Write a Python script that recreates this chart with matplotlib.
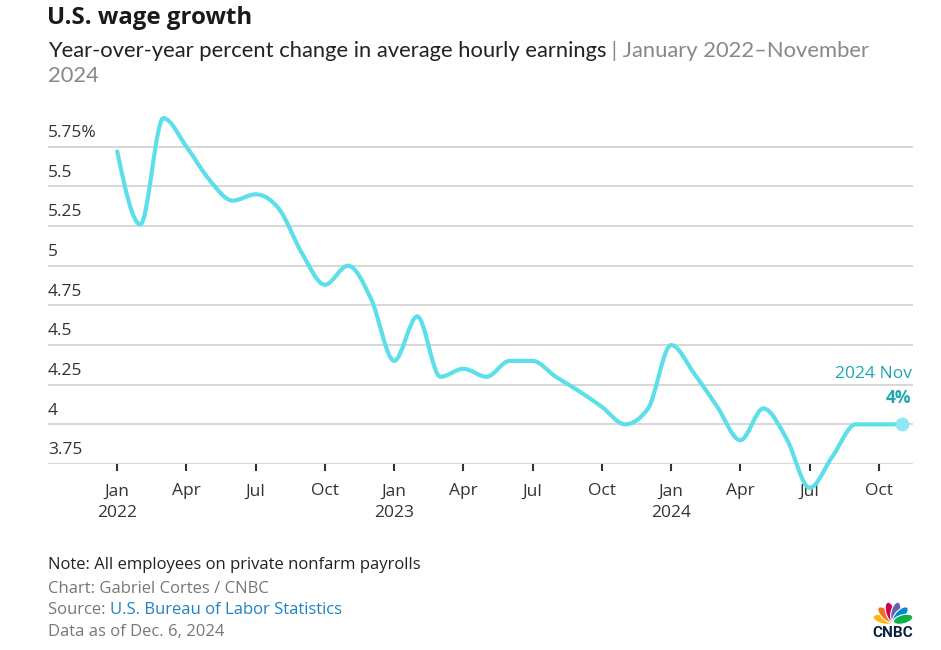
import matplotlib.pyplot as plt
import numpy as np
from matplotlib.path import Path
from matplotlib.patches import PathPatch, Ellipse

# Year-over-year % change in average hourly earnings, Jan 2022 - Nov 2024
wage_2022 = [5.72, 5.26, 5.93, 5.75, 5.54, 5.41, 5.45, 5.36, 5.08, 4.88, 5.00, 4.79]
wage_2023 = [4.40, 4.68, 4.30, 4.35, 4.30, 4.40, 4.40, 4.30, 4.21, 4.11, 4.00, 4.10]
wage_2024 = [4.50, 4.32, 4.11, 3.90, 4.10, 3.91, 3.60, 3.80, 4.00, 4.00, 4.00]
values = wage_2022 + wage_2023 + wage_2024

month_names = ['Jan', 'Apr', 'Jul', 'Oct']
years = ['2022', '2023', '2024']
y_ticks = [3.75, 4, 4.25, 4.5, 4.75, 5, 5.25, 5.5, 5.75]
y_tick_labels = ['3.75', '4', '4.25', '4.5', '4.75', '5', '5.25', '5.5', '5.75%']

W, H = 941, 650
LINE = '#5ddfe9'
TEAL = '#1fa6b2'
GREY = '#777777'
TXT = '#333333'

plt.rcParams['font.family'] = ['Open Sans', 'DejaVu Sans']


def monotone_path(x, y):
    # d3-style monotone-x curve built from cubic bezier segments
    x = np.asarray(x, float)
    y = np.asarray(y, float)
    n = len(x)
    h = np.diff(x)
    s = np.diff(y) / h
    t = np.zeros(n)
    for i in range(1, n - 1):
        p = (s[i - 1] * h[i] + s[i] * h[i - 1]) / (h[i - 1] + h[i])
        t[i] = (np.sign(s[i - 1]) + np.sign(s[i])) * min(abs(s[i - 1]), abs(s[i]), 0.5 * abs(p))
    t[0] = (3 * s[0] - t[1]) / 2
    t[-1] = (3 * s[-1] - t[-2]) / 2
    verts = [(x[0], y[0])]
    codes = [Path.MOVETO]
    for i in range(n - 1):
        dx = h[i] / 3
        verts += [(x[i] + dx, y[i] + dx * t[i]),
                  (x[i + 1] - dx, y[i + 1] - dx * t[i + 1]),
                  (x[i + 1], y[i + 1])]
        codes += [Path.CURVE4] * 3
    return Path(verts, codes)


fig = plt.figure(figsize=(W / 100, H / 100), dpi=100)


def fx(px):
    return px / W


def fy(py):
    return 1 - py / H


ax = fig.add_axes([fx(48), fy(464), fx(913) - fx(48), fy(115) - fy(464)])
months = np.arange(len(values))
ax.set_xlim(-3.0, len(values) - 1 + 0.48)
ax.set_ylim(3.75, 5.95)

for v, lab in zip(y_ticks, y_tick_labels):
    ax.axhline(v, color='#d4d4d4', lw=1.3, zorder=1)
    ax.annotate(lab, xy=(0, v), xycoords=('axes fraction', 'data'),
                xytext=(0, 4), textcoords='offset points',
                ha='left', va='bottom', fontsize=12.5, color=TXT)

for sp in ax.spines.values():
    sp.set_visible(False)
ax.set_yticks([])

tick_pos = months[::3]
tick_labels = []
for i, m in enumerate(tick_pos):
    name = month_names[i % 4]
    if name == 'Jan':
        tick_labels.append(name + '\n' + years[i // 4])
    else:
        tick_labels.append(name)
ax.set_xticks(tick_pos)
ax.set_xticklabels(tick_labels, fontsize=12.5, color=TXT, linespacing=1.5)
ax.tick_params(axis='x', length=5, width=1.5, color='#333333', pad=9)

patch = PathPatch(monotone_path(months, values), facecolor='none', edgecolor=LINE,
                  lw=3.0, capstyle='round', joinstyle='round', zorder=3, clip_on=False)
ax.add_patch(patch)
ax.plot(months[-1], values[-1], 'o', ms=9, color='#8fe9f0', zorder=4, clip_on=False)

ax.annotate('2024 Nov', xy=(months[-1], values[-1]), xytext=(7, 36), textcoords='offset points',
            ha='right', va='center', fontsize=12.5, color=TEAL)
ax.annotate(f'{values[-1]:g}%', xy=(months[-1], values[-1]), xytext=(7, 19), textcoords='offset points',
            ha='right', va='center', fontsize=12.5, color=TEAL, fontweight='bold')

# header
fig.text(fx(47), fy(18.5), 'U.S. wage growth', fontsize=17.3, fontweight='bold',
         color='#1a1a1a', va='center', ha='left')
sub = fig.text(fx(48), fy(51), 'Year-over-year percent change in average hourly earnings',
               fontsize=15.8, color='#222222', va='center', ha='left', family=['Lato', 'DejaVu Sans'])
fig.add_artist(plt.Annotation(' | January 2022\u2013November', xy=(1, 0.5), xycoords=sub,
                              va='center', ha='left', fontsize=15.8, color='#888888',
                              family=['Lato', 'DejaVu Sans']))
fig.text(fx(48), fy(76), '2024', fontsize=15.8, color='#888888', va='center', ha='left',
         family=['Lato', 'DejaVu Sans'])

# footer
fig.text(fx(48), fy(565), 'Note: All employees on private nonfarm payrolls', fontsize=12,
         color='#222222', va='center', ha='left')
fig.text(fx(48), fy(589), 'Chart: Gabriel Cortes / CNBC', fontsize=12, color=GREY, va='center', ha='left')
src = fig.text(fx(48), fy(610), 'Source: ', fontsize=12, color=GREY, va='center', ha='left')
fig.add_artist(plt.Annotation('U.S. Bureau of Labor Statistics', xy=(1, 0.5), xycoords=src,
                              va='center', ha='left', fontsize=12, color='#1e82c4'))
fig.text(fx(48), fy(632), 'Data as of Dec. 6, 2024', fontsize=12, color=GREY, va='center', ha='left')

# CNBC peacock logo
lax = fig.add_axes([fx(866), fy(642), fx(54), fy(598) - fy(642)])
lax.set_xlim(0, 54)
lax.set_ylim(0, 44)
lax.axis('off')
feathers = ['#fcb711', '#f37021', '#cc004c', '#6460aa', '#0089d0', '#0db14b']
angles = np.linspace(165, 15, len(feathers))
cx, cy = 27, 20
for col, a in zip(feathers, angles):
    r = np.radians(a)
    lax.add_patch(Ellipse((cx + 10.5 * np.cos(r), cy + 10.5 * np.sin(r)), 20, 9, angle=a,
                          facecolor=col, edgecolor='white', lw=0.8))
lax.text(27, 9, 'CNBC', ha='center', va='center', fontsize=11, fontweight='bold',
         color='#0c2340', family=['Roboto', 'DejaVu Sans'])

fig.savefig('out.png', dpi=100)
